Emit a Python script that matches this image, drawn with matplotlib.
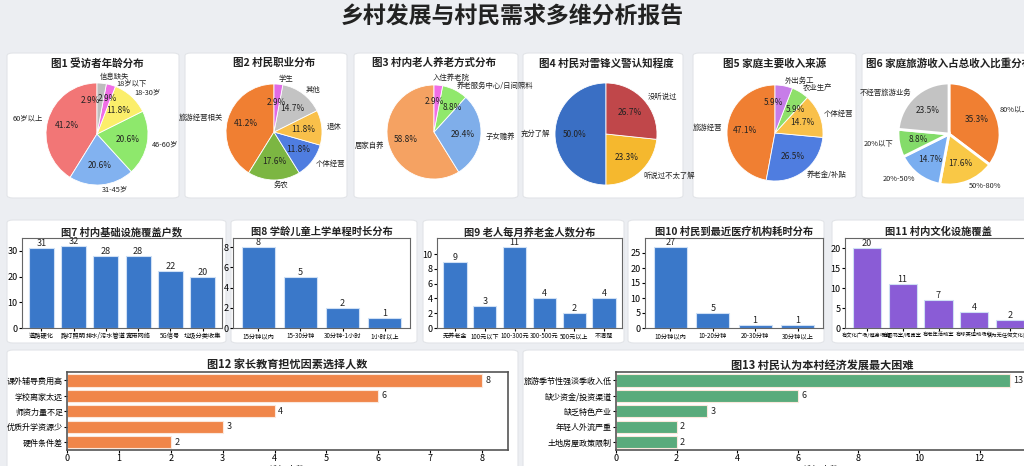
import matplotlib
matplotlib.use("Agg")
import matplotlib.pyplot as plt
from matplotlib.patches import FancyBboxPatch

plt.rcParams['font.family'] = ['Noto Sans CJK SC', 'DejaVu Sans']
plt.rcParams['axes.unicode_minus'] = False

W, H = 1024, 466

# ---- data ----
age_labels = ['60岁以上', '31-45岁', '46-60岁', '18-30岁', '18岁以下', '信息缺失']
age_counts = [14, 7, 7, 4, 1, 1]

job_labels = ['旅游经营相关', '务农', '个体经营', '退休', '其他', '学生']
job_counts = [14, 6, 4, 4, 5, 1]

elder_labels = ['居家自养', '子女赡养', '养老服务中心/日间照料', '入住养老院']
elder_counts = [20, 10, 3, 1]

aware_labels = ['充分了解', '听说过不太了解', '没听说过']
aware_counts = [15, 7, 8]

income_labels = ['旅游经营', '养老金/补贴', '个体经营', '农业生产', '外出务工']
income_counts = [16, 9, 5, 2, 2]

share_labels = ['80%以上', '50%-80%', '20%-50%', '20%以下', '不经营旅游业务']
share_counts = [12, 6, 5, 3, 8]

infra_labels = ['道路硬化', '路灯照明', '排水/污水管道', '宽带网络', '5G信号', '垃圾分类收集']
infra_counts = [31, 32, 28, 28, 22, 20]

school_labels = ['15分钟以内', '15-30分钟', '30分钟-1小时', '1小时以上']
school_counts = [8, 5, 2, 1]

pension_labels = ['无养老金', '100元以下', '100-300元', '300-500元', '500元以上', '不清楚']
pension_counts = [9, 3, 11, 4, 2, 4]

clinic_labels = ['10分钟以内', '10-20分钟', '20-30分钟', '30分钟以上']
clinic_counts = [27, 5, 1, 1]

culture_labels = ['有文化广场/健身场地', '有图书室/阅览室', '有老年活动室', '有球类运动场地', '认为无任何文化设施']
culture_counts = [20, 11, 7, 4, 2]

edu_labels = ['课外辅导费用高', '学校离家太远', '师资力量不足', '优质升学资源少', '硬件条件差']
edu_counts = [8, 6, 4, 3, 2]

econ_labels = ['旅游季节性强淡季收入低', '缺少资金/投资渠道', '缺乏特色产业', '年轻人外流严重', '土地房屋政策限制']
econ_counts = [13, 6, 3, 2, 2]


def rect(x0, y0, x1, y1):
    return [x0 / W, 1 - y1 / H, (x1 - x0) / W, (y1 - y0) / H]


fig = plt.figure(figsize=(W / 100, H / 100), dpi=100)
fig.patch.set_facecolor('#eceef2')

# white panels behind every chart
panels = [(7, 53, 179, 198), (185, 53, 347, 198), (354, 53, 518, 198),
          (523, 53, 683, 198), (693, 53, 856, 198), (862, 53, 1040, 198),
          (7, 220, 226, 343), (231, 220, 417, 343), (423, 220, 624, 343),
          (628, 220, 824, 343), (832, 220, 1040, 343),
          (7, 350, 518, 480), (523, 350, 1040, 480)]
for x0, y0, x1, y1 in panels:
    fig.patches.append(FancyBboxPatch((x0 / W, 1 - y1 / H), (x1 - x0) / W, (y1 - y0) / H,
                                      boxstyle='round,pad=0,rounding_size=0.006',
                                      transform=fig.transFigure, facecolor='white',
                                      edgecolor='#e2e4e8', linewidth=0.8, zorder=-5))

fig.text(0.5, 1 - 17 / H, '乡村发展与村民需求多维分析报告', ha='center', va='center',
         fontsize=16.5, fontweight='bold', color='#222222')


def pie(cx, cy, r, title, vals, labels, colors, counter=True, lw=0.6):
    ax = fig.add_axes(rect(cx - r, cy - r, cx + r, cy + r))
    ax.set_zorder(2)
    ax.patch.set_alpha(0)
    wedges, texts, autotexts = ax.pie(vals, labels=labels, colors=colors, startangle=90,
                                      counterclock=counter, autopct='%1.1f%%', pctdistance=0.62,
                                      labeldistance=1.1,
                                      wedgeprops=dict(edgecolor='white', linewidth=lw),
                                      textprops=dict(fontsize=5.3, color='#222222'))
    for t in autotexts:
        t.set_fontsize(6)
    ax.set_xlim(-1, 1)
    ax.set_ylim(-1, 1)
    ax.set_aspect('equal')
    fig.text(cx / W, 1 - 63 / H, title, ha='center', va='center', fontsize=7.6,
             fontweight='bold', color='#222222')
    return texts, autotexts


def nudge(t, dx, dy):
    x, y = t.get_position()
    t.set_position((x + dx, y + dy))


t1, p1 = pie(97, 134, 51, '图1 受访者年龄分布', age_counts, age_labels,
             ['#f27676', '#82b2f0', '#8ee86c', '#fbee6a', '#f06ee6', '#bdbdbd'])
# thin wedges at the top: spread their labels
nudge(t1[4], 0.08, -0.08)
nudge(t1[5], -0.05, 0.02)
p1[4].set_position((0.2, 0.7))
p1[5].set_position((-0.12, 0.66))

pie(274, 132, 48, '图2 村民职业分布', job_counts, job_labels,
    ['#f07f32', '#7cb642', '#4f7de0', '#f9c04a', '#c3c3c3', '#e06ae6'])
t3, p3 = pie(434, 132, 47, '图3 村内老人养老方式分布', elder_counts, elder_labels,
             ['#f5a262', '#7faeea', '#90e86c', '#f06ee6'])
nudge(t3[3], -0.12, 0.06)
p3[2].set_position((0.4, 0.52))
p3[3].set_position((0.0, 0.64))
pie(606, 134, 51, '图4 村民对雷锋义警认知程度', aware_counts, aware_labels,
    ['#3a6fc4', '#f5b82e', '#c0474a'])
t5, p5 = pie(775, 133, 48, '图5 家庭主要收入来源', income_counts, income_labels,
             ['#f07f32', '#4f7de0', '#f9c04a', '#8ee06a', '#c77de8'])
p5[3].set_position((0.42, 0.48))
p5[4].set_position((-0.04, 0.64))
pie(949, 134, 51, '图6 家庭旅游收入占总收入比重分布', share_counts, share_labels,
    ['#f07f32', '#f9c846', '#7aaef0', '#84dc6a', '#c3c3c3'], counter=False, lw=2)


def vbar(box, title, labels, vals, color, ymax, yticks, tick_fs=4.5):
    ax = fig.add_axes(rect(*box))
    bars = ax.bar(range(len(vals)), vals, width=0.78, color=color, edgecolor='#cfe0f5', linewidth=0.8)
    for b, v in zip(bars, vals):
        ax.text(b.get_x() + b.get_width() / 2, v, str(v), ha='center', va='bottom',
                fontsize=6.5, color='#222222')
    ax.set_xlim(-0.6, len(vals) - 0.4)
    ax.set_ylim(0, ymax)
    ax.set_yticks(yticks)
    ax.set_xticks(range(len(vals)))
    ax.set_xticklabels(labels, fontsize=tick_fs)
    ax.tick_params(axis='y', labelsize=6.5, length=2, pad=1)
    ax.tick_params(axis='x', length=2, pad=1)
    for s in ax.spines.values():
        s.set_color('#666666')
        s.set_linewidth(0.8)
    ax.set_title(title, fontsize=7.4, fontweight='bold', pad=2, color='#222222')
    return ax


vbar((22, 238, 222, 328), '图7 村内基础设施覆盖户数', infra_labels, infra_counts, '#3a78c9',
     35, range(0, 31, 10))
vbar((233, 238, 410, 328), '图8 学龄儿童上学单程时长分布', school_labels, school_counts, '#3a78c9',
     8.9, range(0, 9, 2))
vbar((437, 238, 622, 328), '图9 老人每月养老金人数分布', pension_labels, pension_counts, '#3a78c9',
     12.2, range(0, 11, 2), 4.4)
vbar((645, 238, 823, 328), '图10 村民到最近医疗机构耗时分布', clinic_labels, clinic_counts, '#3a78c9',
     30, range(0, 26, 5))
vbar((845, 238, 1032, 328), '图11 村内文化设施覆盖', culture_labels, culture_counts, '#8a5cd6',
     22.5, range(0, 21, 5), 3.8)


def hbar(box, title, labels, vals, color, xmax, xticks):
    ax = fig.add_axes(rect(*box))
    y = list(range(len(vals)))[::-1]
    bars = ax.barh(y, vals, height=0.78, color=color, edgecolor='#fbe8dc', linewidth=0.8)
    for b, v in zip(bars, vals):
        ax.text(v + xmax * 0.008, b.get_y() + b.get_height() / 2, str(v), va='center',
                fontsize=6.5, color='#222222')
    ax.set_yticks(y)
    ax.set_yticklabels(labels, fontsize=5.8)
    ax.set_xlim(0, xmax)
    ax.set_ylim(-0.5, len(vals) - 0.45)
    ax.set_xticks(xticks)
    ax.tick_params(axis='x', labelsize=6.5, length=2, pad=1)
    ax.tick_params(axis='y', length=2, pad=1)
    ax.set_xlabel('选择人数', fontsize=6.5, labelpad=2)
    for s in ax.spines.values():
        s.set_color('#555555')
        s.set_linewidth(1.2)
    ax.set_title(title, fontsize=8, fontweight='bold', pad=2, color='#222222')
    return ax


hbar((67, 372, 508, 450), '图12 家长教育担忧因素选择人数', edu_labels, edu_counts, '#f0864a',
     8.5, range(0, 9))
hbar((616, 372, 1028, 450), '图13 村民认为本村经济发展最大困难', econ_labels, econ_counts, '#5aab7c',
     13.6, range(0, 13, 2))

fig.savefig('out.png', dpi=100, facecolor=fig.get_facecolor())
